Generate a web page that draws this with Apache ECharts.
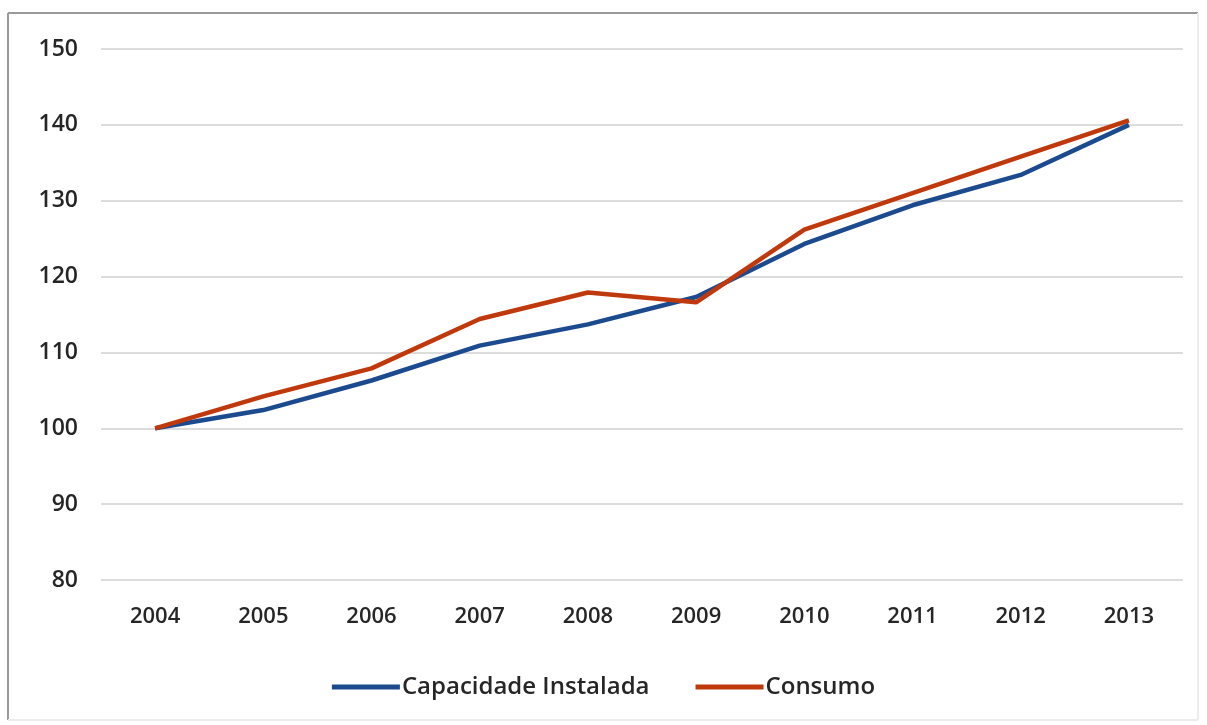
<!DOCTYPE html>
<html>
<head>
<meta charset="utf-8">
<script src="https://cdn.jsdelivr.net/npm/echarts@6/dist/echarts.min.js"></script>
<style>
html,body{margin:0;padding:0;background:#fff;}
#chart{width:1207px;height:725px;}
</style>
</head>
<body>
<div id="chart"></div>
<script>
// dados
var anos = ['2004','2005','2006','2007','2008','2009','2010','2011','2012','2013'];
var capacidade = [100, 102.4, 106.3, 110.9, 113.7, 117.3, 124.3, 129.4, 133.4, 140];
var consumo = [100, 104.2, 107.9, 114.4, 117.9, 116.6, 126.2, 131.0, 135.8, 140.6];
var nomes = ['Capacidade Instalada', 'Consumo'];
var cores = ['#1c4a8f', '#c0390d'];

var fonte = '"Open Sans", "DejaVu Sans", sans-serif';

var myChart = echarts.init(document.getElementById('chart'));
var option = {
	backgroundColor: '#fff',
	animation: false,
	graphic: [
		{type:'line', shape:{x1:8,y1:13,x2:1198,y2:13}, style:{stroke:'#9a9a9a',lineWidth:2}},
		{type:'line', shape:{x1:8,y1:13,x2:8,y2:720}, style:{stroke:'#9a9a9a',lineWidth:2}},
		{type:'line', shape:{x1:1198,y1:13,x2:1198,y2:720}, style:{stroke:'#ececec',lineWidth:2}},
		{type:'line', shape:{x1:8,y1:720,x2:1198,y2:720}, style:{stroke:'#ececec',lineWidth:2}}
	],
	grid: {left: 101, right: 24, top: 49, bottom: 145, containLabel: false},
	legend: {
		bottom: 21,
		left: 'center',
		itemWidth: 68,
		itemHeight: 5,
		itemGap: 46,
		icon: 'rect',
		textStyle: {fontFamily: fonte, fontSize: 24, fontWeight: 600, color: '#262626', padding: [0,0,0,-3]},
		data: nomes
	},
	xAxis: {
		type: 'category',
		data: anos,
		boundaryGap: true,
		axisLine: {show: false},
		axisTick: {show: false},
		axisLabel: {fontFamily: fonte, fontSize: 22, fontWeight: 600, color: '#262626', margin: 26}
	},
	yAxis: {
		type: 'value',
		min: 80,
		max: 150,
		interval: 10,
		axisLine: {show: false},
		axisTick: {show: false},
		axisLabel: {fontFamily: fonte, fontSize: 23, fontWeight: 600, color: '#262626', margin: 23},
		splitLine: {lineStyle: {color: '#dcdcdc', width: 2}}
	},
	series: [
		{
			name: nomes[0],
			type: 'line',
			data: capacidade,
			symbol: 'none',
			color: cores[0],
			lineStyle: {width: 4.5, color: cores[0]},
			z: 2
		},
		{
			name: nomes[1],
			type: 'line',
			data: consumo,
			symbol: 'none',
			color: cores[1],
			lineStyle: {width: 4.5, color: cores[1]},
			z: 3
		}
	]
};
myChart.setOption(option);
</script>
</body>
</html>
